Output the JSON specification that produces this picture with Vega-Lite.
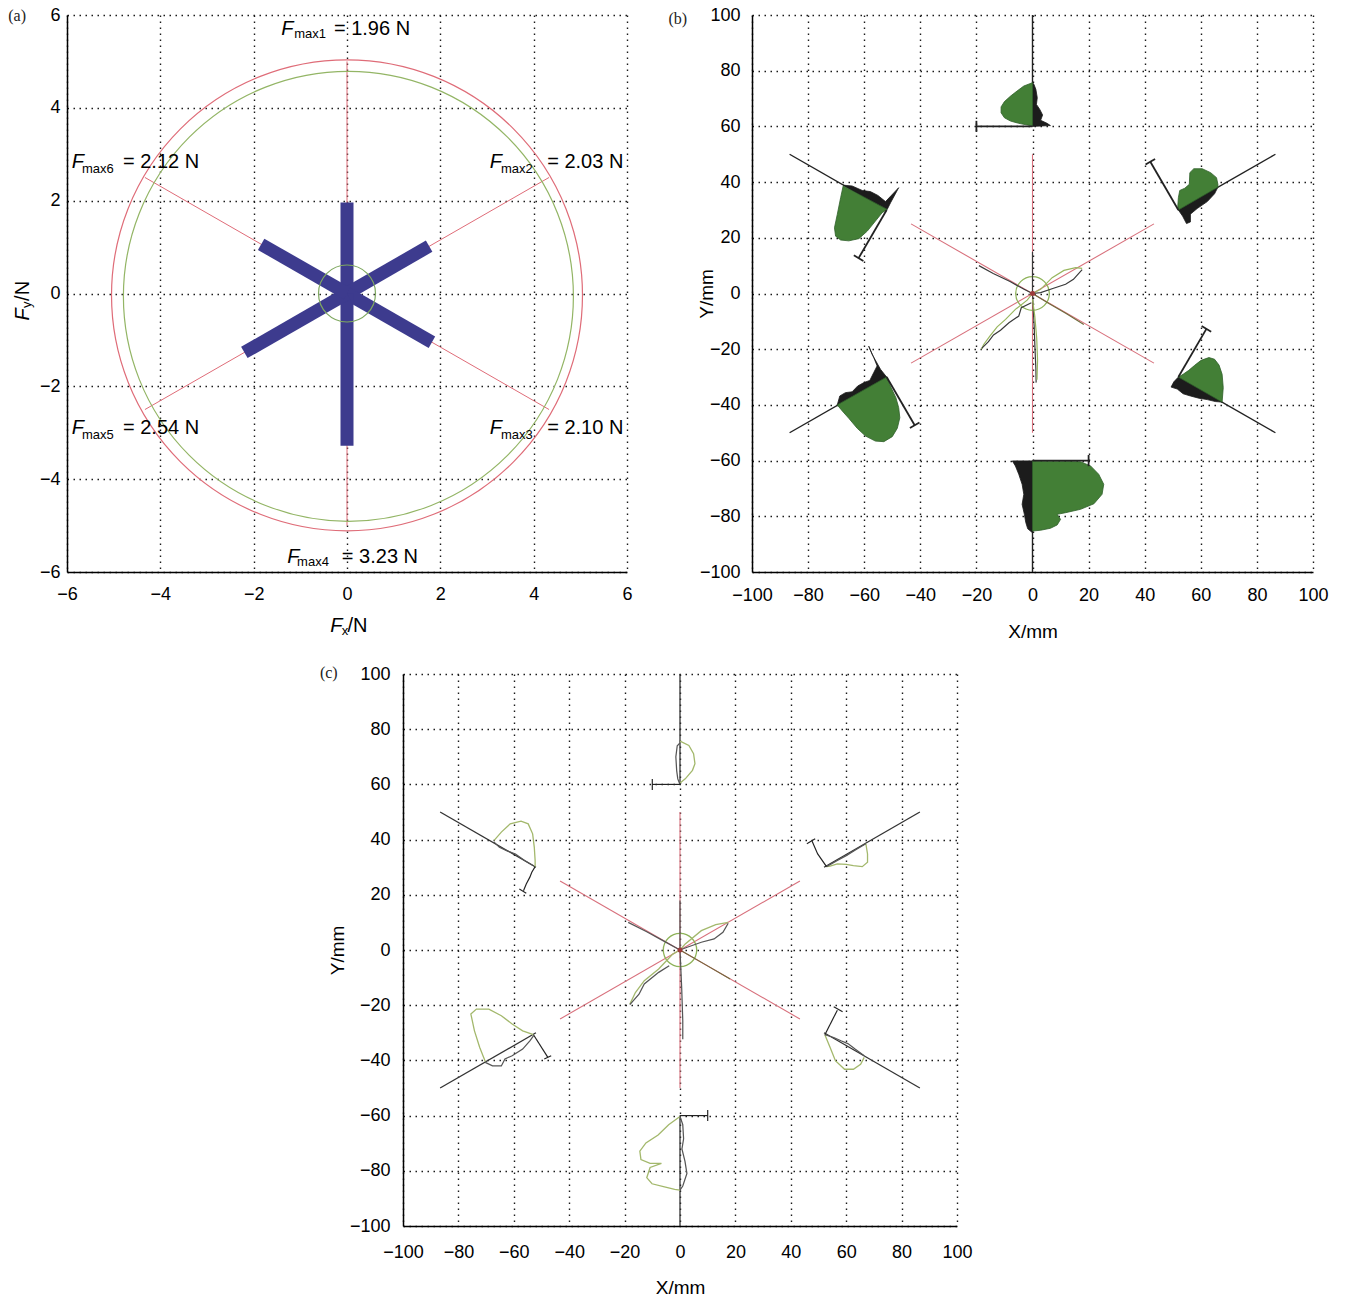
{
"$schema": "https://vega.github.io/schema/vega-lite/v6.json",
"background": "white",
"padding": {"left": 8, "top": 6, "right": 5, "bottom": 5},
"config": {
  "view": {"stroke": null},
  "axis": {"grid": true, "gridDash": [1.5, 4.5], "gridColor": "#1a1a1a", "gridOpacity": 1, "gridWidth": 1.4, "domainColor": "#000", "domainWidth": 1.5, "ticks": false, "labelFlush": false, "labelOverlap": false, "labelFont": "Liberation Sans", "labelFontSize": 18, "labelColor": "#000", "titleFont": "Liberation Sans", "titleFontSize": 19, "titleFontWeight": "normal", "titleColor": "#000"}
},
"datasets": {
  "aSpokes": [{"X":0,"Y":5,"X2":0,"Y2":-5},{"X":-4.33,"Y":-2.5,"X2":4.33,"Y2":2.5},{"X":-4.33,"Y":2.5,"X2":4.33,"Y2":-2.5}],
  "aBars": [{"X":0,"Y":0,"X2":0,"Y2":1.96},{"X":0,"Y":0,"X2":1.76,"Y2":1.02},{"X":0,"Y":0,"X2":1.82,"Y2":-1.05},{"X":0,"Y":0,"X2":0,"Y2":-3.28},{"X":0,"Y":0,"X2":-2.2,"Y2":-1.27},{"X":0,"Y":0,"X2":-1.84,"Y2":1.06}],
  "aText": [
    {"k":"F","t":"F","X":-1.41,"Y":5.70},{"k":"s","t":"max1","X":-1.13,"Y":5.58},{"k":"r","t":"=\u00a01.96 N","X":-0.28,"Y":5.70},
    {"k":"F","t":"F","X":-5.90,"Y":2.83},{"k":"s","t":"max6","X":-5.68,"Y":2.68},{"k":"r","t":"=\u00a02.12 N","X":-4.80,"Y":2.83},
    {"k":"F","t":"F","X":3.06,"Y":2.83},{"k":"s","t":"max2","X":3.30,"Y":2.68},{"k":"r","t":"=\u00a02.03 N","X":4.29,"Y":2.83},
    {"k":"F","t":"F","X":-5.90,"Y":-2.89},{"k":"s","t":"max5","X":-5.68,"Y":-3.05},{"k":"r","t":"=\u00a02.54 N","X":-4.80,"Y":-2.89},
    {"k":"F","t":"F","X":3.06,"Y":-2.89},{"k":"s","t":"max3","X":3.30,"Y":-3.05},{"k":"r","t":"=\u00a02.10 N","X":4.29,"Y":-2.89},
    {"k":"F","t":"F","X":-1.28,"Y":-5.67},{"k":"s","t":"max4","X":-1.07,"Y":-5.79},{"k":"r","t":"=\u00a03.23 N","X":-0.11,"Y":-5.67},
    {"k":"F","t":"F","X":-0.36,"Y":-7.17},{"k":"s","t":"x","X":-0.11,"Y":-7.28},{"k":"r","t":"/N","X":0.01,"Y":-7.17},
    {"k":"Fv","t":"F","X":-6.95,"Y":-0.58},{"k":"sv","t":"y","X":-6.86,"Y":-0.31},{"k":"rv","t":"/N","X":-6.95,"Y":-0.16},
    {"k":"p","t":"(a)","X":-7.26,"Y":5.98}
  ],
  "redlines": [{"X":0,"Y":50,"X2":0,"Y2":-50},{"X":-43.3,"Y":25,"X2":43.3,"Y2":-25},{"X":-43.3,"Y":-25,"X2":43.3,"Y2":25}],
  "tracks": [{"X":0,"Y":100,"X2":0,"Y2":60},{"X":0,"Y":-60,"X2":0,"Y2":-100},{"X":52,"Y":30,"X2":86.6,"Y2":50},{"X":-52,"Y":30,"X2":-86.6,"Y2":50},{"X":-52,"Y":-30,"X2":-86.6,"Y2":-50},{"X":52,"Y":-30,"X2":86.6,"Y2":-50}],
  "bT": [{"X":0,"Y":60,"X2":-20,"Y2":60},{"X":-20,"Y":58,"X2":-20,"Y2":62},
         {"X":52,"Y":30,"X2":42,"Y2":47.3},{"X":40.3,"Y":46.3,"X2":43.7,"Y2":48.3},
         {"X":52,"Y":-30,"X2":62,"Y2":-12.7},{"X":60.3,"Y":-11.7,"X2":63.7,"Y2":-13.7},
         {"X":0,"Y":-60,"X2":20,"Y2":-60},{"X":20,"Y":-58,"X2":20,"Y2":-62},
         {"X":-52,"Y":-30,"X2":-42,"Y2":-47.3},{"X":-43.7,"Y":-48.3,"X2":-40.3,"Y2":-46.3},
         {"X":-52,"Y":30,"X2":-62,"Y2":12.7},{"X":-63.7,"Y":13.7,"X2":-60.3,"Y2":11.7}],
  "bPoly": [
    {"s":"ULk","p":"k","o":1,"X":-67.5,"Y":38.9},{"s":"ULk","p":"k","o":2,"X":-64.3,"Y":38.6},{"s":"ULk","p":"k","o":3,"X":-60.7,"Y":37.0},{"s":"ULk","p":"k","o":4,"X":-57.8,"Y":36.6},{"s":"ULk","p":"k","o":5,"X":-55.1,"Y":35.2},{"s":"ULk","p":"k","o":6,"X":-52.4,"Y":33.0},{"s":"ULk","p":"k","o":7,"X":-47.7,"Y":38.0},{"s":"ULk","p":"k","o":8,"X":-50.6,"Y":32.6},{"s":"ULk","p":"k","o":9,"X":-51.8,"Y":30.2},{"s":"ULk","p":"k","o":10,"X":-67.5,"Y":38.9},
    {"s":"ULg","p":"g","o":1,"X":-67.5,"Y":38.6},{"s":"ULg","p":"g","o":2,"X":-68.4,"Y":34.4},{"s":"ULg","p":"g","o":3,"X":-69.6,"Y":28.4},{"s":"ULg","p":"g","o":4,"X":-70.6,"Y":23.6},{"s":"ULg","p":"g","o":5,"X":-70.2,"Y":20.6},{"s":"ULg","p":"g","o":6,"X":-68.4,"Y":19.2},{"s":"ULg","p":"g","o":7,"X":-65.5,"Y":18.9},{"s":"ULg","p":"g","o":8,"X":-61.9,"Y":19.7},{"s":"ULg","p":"g","o":9,"X":-58.9,"Y":22.4},{"s":"ULg","p":"g","o":10,"X":-56.0,"Y":26.0},{"s":"ULg","p":"g","o":11,"X":-53.6,"Y":29.0},{"s":"ULg","p":"g","o":12,"X":-51.8,"Y":30.2},{"s":"ULg","p":"g","o":13,"X":-67.5,"Y":38.6},
    {"s":"URk","p":"k","o":1,"X":52.0,"Y":30.0},{"s":"URk","p":"k","o":2,"X":53.5,"Y":27.8},{"s":"URk","p":"k","o":3,"X":54.9,"Y":25.1},{"s":"URk","p":"k","o":4,"X":56.3,"Y":25.7},{"s":"URk","p":"k","o":5,"X":56.3,"Y":28.5},{"s":"URk","p":"k","o":6,"X":58.7,"Y":30.5},{"s":"URk","p":"k","o":7,"X":62.3,"Y":33.0},{"s":"URk","p":"k","o":8,"X":64.9,"Y":35.8},{"s":"URk","p":"k","o":9,"X":66.1,"Y":38.2},{"s":"URk","p":"k","o":10,"X":52.0,"Y":30.0},
    {"s":"URg","p":"g","o":1,"X":66.1,"Y":39.2},{"s":"URg","p":"g","o":2,"X":65.6,"Y":41.6},{"s":"URg","p":"g","o":3,"X":63.5,"Y":43.4},{"s":"URg","p":"g","o":4,"X":60.5,"Y":44.8},{"s":"URg","p":"g","o":5,"X":57.5,"Y":44.8},{"s":"URg","p":"g","o":6,"X":56.1,"Y":43.4},{"s":"URg","p":"g","o":7,"X":55.9,"Y":39.2},{"s":"URg","p":"g","o":8,"X":54.3,"Y":37.8},{"s":"URg","p":"g","o":9,"X":52.5,"Y":37.0},{"s":"URg","p":"g","o":10,"X":52.0,"Y":34.4},{"s":"URg","p":"g","o":11,"X":51.8,"Y":31.4},{"s":"URg","p":"g","o":12,"X":52.0,"Y":30.0},{"s":"URg","p":"g","o":13,"X":66.1,"Y":38.2},{"s":"URg","p":"g","o":14,"X":66.1,"Y":39.2},
    {"s":"Tk","p":"k","o":1,"X":0,"Y":75.7},{"s":"Tk","p":"k","o":2,"X":0.5,"Y":75.1},{"s":"Tk","p":"k","o":3,"X":1.2,"Y":73.3},{"s":"Tk","p":"k","o":4,"X":1.7,"Y":70.3},{"s":"Tk","p":"k","o":5,"X":1.4,"Y":67.9},{"s":"Tk","p":"k","o":6,"X":2.6,"Y":66.1},{"s":"Tk","p":"k","o":7,"X":3.6,"Y":64.1},{"s":"Tk","p":"k","o":8,"X":2.9,"Y":62.2},{"s":"Tk","p":"k","o":9,"X":5.2,"Y":61.1},{"s":"Tk","p":"k","o":10,"X":6.4,"Y":60.3},{"s":"Tk","p":"k","o":11,"X":0,"Y":60.0},{"s":"Tk","p":"k","o":12,"X":0,"Y":75.7},
    {"s":"Tg","p":"g","o":1,"X":0,"Y":75.7},{"s":"Tg","p":"g","o":2,"X":-3.1,"Y":74.5},{"s":"Tg","p":"g","o":3,"X":-5.5,"Y":72.7},{"s":"Tg","p":"g","o":4,"X":-7.8,"Y":70.9},{"s":"Tg","p":"g","o":5,"X":-10.0,"Y":68.9},{"s":"Tg","p":"g","o":6,"X":-11.2,"Y":67.0},{"s":"Tg","p":"g","o":7,"X":-11.2,"Y":64.9},{"s":"Tg","p":"g","o":8,"X":-10.0,"Y":63.1},{"s":"Tg","p":"g","o":9,"X":-7.8,"Y":61.9},{"s":"Tg","p":"g","o":10,"X":-4.9,"Y":61.1},{"s":"Tg","p":"g","o":11,"X":-1.9,"Y":60.5},{"s":"Tg","p":"g","o":12,"X":0,"Y":60.2},{"s":"Tg","p":"g","o":13,"X":0,"Y":75.7},
    {"s":"LLk","p":"k","o":1,"X":-69.6,"Y":-40.0},{"s":"LLk","p":"k","o":2,"X":-68.7,"Y":-36.8},{"s":"LLk","p":"k","o":3,"X":-66.7,"Y":-35.6},{"s":"LLk","p":"k","o":4,"X":-64.3,"Y":-35.3},{"s":"LLk","p":"k","o":5,"X":-62.3,"Y":-33.2},{"s":"LLk","p":"k","o":6,"X":-60.1,"Y":-32.0},{"s":"LLk","p":"k","o":7,"X":-58.0,"Y":-31.2},{"s":"LLk","p":"k","o":8,"X":-56.6,"Y":-28.4},{"s":"LLk","p":"k","o":9,"X":-55.4,"Y":-26.0},{"s":"LLk","p":"k","o":10,"X":-56.6,"Y":-23.0},{"s":"LLk","p":"k","o":11,"X":-58.4,"Y":-18.9},{"s":"LLk","p":"k","o":12,"X":-57.2,"Y":-21.8},{"s":"LLk","p":"k","o":13,"X":-54.2,"Y":-27.2},{"s":"LLk","p":"k","o":14,"X":-52.0,"Y":-30.0},{"s":"LLk","p":"k","o":15,"X":-69.6,"Y":-40.0},
    {"s":"LLg","p":"g","o":1,"X":-69.6,"Y":-40.0},{"s":"LLg","p":"g","o":2,"X":-52.0,"Y":-30.0},{"s":"LLg","p":"g","o":3,"X":-50.4,"Y":-33.8},{"s":"LLg","p":"g","o":4,"X":-48.7,"Y":-37.4},{"s":"LLg","p":"g","o":5,"X":-47.7,"Y":-41.0},{"s":"LLg","p":"g","o":6,"X":-47.3,"Y":-44.6},{"s":"LLg","p":"g","o":7,"X":-48.2,"Y":-48.4},{"s":"LLg","p":"g","o":8,"X":-50.0,"Y":-51.4},{"s":"LLg","p":"g","o":9,"X":-53.0,"Y":-53.2},{"s":"LLg","p":"g","o":10,"X":-56.0,"Y":-53.0},{"s":"LLg","p":"g","o":11,"X":-59.5,"Y":-51.2},{"s":"LLg","p":"g","o":12,"X":-62.5,"Y":-48.4},{"s":"LLg","p":"g","o":13,"X":-65.5,"Y":-44.8},{"s":"LLg","p":"g","o":14,"X":-67.8,"Y":-42.2},{"s":"LLg","p":"g","o":15,"X":-69.6,"Y":-40.0},
    {"s":"LRk","p":"k","o":1,"X":52.0,"Y":-30.0},{"s":"LRk","p":"k","o":2,"X":50.4,"Y":-31.7},{"s":"LRk","p":"k","o":3,"X":49.4,"Y":-33.6},{"s":"LRk","p":"k","o":4,"X":51.6,"Y":-34.3},{"s":"LRk","p":"k","o":5,"X":53.7,"Y":-36.0},{"s":"LRk","p":"k","o":6,"X":56.3,"Y":-36.8},{"s":"LRk","p":"k","o":7,"X":59.3,"Y":-37.6},{"s":"LRk","p":"k","o":8,"X":62.3,"Y":-38.1},{"s":"LRk","p":"k","o":9,"X":65.2,"Y":-38.8},{"s":"LRk","p":"k","o":10,"X":67.6,"Y":-39.0},{"s":"LRk","p":"k","o":11,"X":52.0,"Y":-30.0},
    {"s":"LRg","p":"g","o":1,"X":52.0,"Y":-30.0},{"s":"LRg","p":"g","o":2,"X":53.7,"Y":-29.0},{"s":"LRg","p":"g","o":3,"X":55.7,"Y":-27.6},{"s":"LRg","p":"g","o":4,"X":57.8,"Y":-25.8},{"s":"LRg","p":"g","o":5,"X":60.1,"Y":-24.0},{"s":"LRg","p":"g","o":6,"X":62.9,"Y":-23.0},{"s":"LRg","p":"g","o":7,"X":64.9,"Y":-23.6},{"s":"LRg","p":"g","o":8,"X":66.5,"Y":-25.7},{"s":"LRg","p":"g","o":9,"X":67.6,"Y":-29.0},{"s":"LRg","p":"g","o":10,"X":68.0,"Y":-33.8},{"s":"LRg","p":"g","o":11,"X":67.6,"Y":-39.0},{"s":"LRg","p":"g","o":12,"X":52.0,"Y":-30.0},
    {"s":"Bk","p":"k","o":1,"X":0,"Y":-60.1},{"s":"Bk","p":"k","o":2,"X":-7.2,"Y":-60.1},{"s":"Bk","p":"k","o":3,"X":-6.1,"Y":-61.9},{"s":"Bk","p":"k","o":4,"X":-4.9,"Y":-64.9},{"s":"Bk","p":"k","o":5,"X":-3.7,"Y":-68.5},{"s":"Bk","p":"k","o":6,"X":-3.1,"Y":-72.1},{"s":"Bk","p":"k","o":7,"X":-3.7,"Y":-75.7},{"s":"Bk","p":"k","o":8,"X":-2.9,"Y":-79.3},{"s":"Bk","p":"k","o":9,"X":-2.4,"Y":-82.2},{"s":"Bk","p":"k","o":10,"X":-1.7,"Y":-84.5},{"s":"Bk","p":"k","o":11,"X":0,"Y":-85.9},{"s":"Bk","p":"k","o":12,"X":0,"Y":-60.1},
    {"s":"Bg","p":"g","o":1,"X":0,"Y":-60.1},{"s":"Bg","p":"g","o":2,"X":17.1,"Y":-60.4},{"s":"Bg","p":"g","o":3,"X":20.7,"Y":-61.9},{"s":"Bg","p":"g","o":4,"X":23.6,"Y":-64.9},{"s":"Bg","p":"g","o":5,"X":25.4,"Y":-68.5},{"s":"Bg","p":"g","o":6,"X":24.8,"Y":-72.1},{"s":"Bg","p":"g","o":7,"X":21.9,"Y":-75.5},{"s":"Bg","p":"g","o":8,"X":17.1,"Y":-77.5},{"s":"Bg","p":"g","o":9,"X":11.8,"Y":-78.7},{"s":"Bg","p":"g","o":10,"X":8.8,"Y":-79.3},{"s":"Bg","p":"g","o":11,"X":10.0,"Y":-81.1},{"s":"Bg","p":"g","o":12,"X":8.8,"Y":-83.1},{"s":"Bg","p":"g","o":13,"X":6.4,"Y":-84.3},{"s":"Bg","p":"g","o":14,"X":2.9,"Y":-85.0},{"s":"Bg","p":"g","o":15,"X":0,"Y":-85.3},{"s":"Bg","p":"g","o":16,"X":0,"Y":-60.1}
  ],
  "bPaths": [
    {"id":"p1","k":"g","o":1,"X":0,"Y":0},{"id":"p1","k":"g","o":2,"X":2.9,"Y":1.5},{"id":"p1","k":"g","o":3,"X":7.0,"Y":5.7},{"id":"p1","k":"g","o":4,"X":11.2,"Y":8.3},{"id":"p1","k":"g","o":5,"X":15.4,"Y":9.3},{"id":"p1","k":"g","o":6,"X":17.7,"Y":9.0},
    {"id":"p2","k":"d","o":1,"X":0,"Y":0},{"id":"p2","k":"d","o":2,"X":2.9,"Y":0.3},{"id":"p2","k":"d","o":3,"X":7.5,"Y":1.9},{"id":"p2","k":"d","o":4,"X":11.8,"Y":3.3},{"id":"p2","k":"d","o":5,"X":14.6,"Y":5.1},{"id":"p2","k":"d","o":6,"X":17.7,"Y":8.6},
    {"id":"p3","k":"d","o":1,"X":0,"Y":0},{"id":"p3","k":"d","o":2,"X":-3,"Y":1.5},{"id":"p3","k":"d","o":3,"X":-8,"Y":4.3},{"id":"p3","k":"d","o":4,"X":-14,"Y":7.2},{"id":"p3","k":"d","o":5,"X":-19.1,"Y":10.0},
    {"id":"p4","k":"g","o":1,"X":0,"Y":0},{"id":"p4","k":"g","o":2,"X":-1.9,"Y":-2.4},{"id":"p4","k":"g","o":3,"X":-6.1,"Y":-5.7},{"id":"p4","k":"g","o":4,"X":-9.6,"Y":-9.3},{"id":"p4","k":"g","o":5,"X":-12.6,"Y":-12.0},{"id":"p4","k":"g","o":6,"X":-15.2,"Y":-15.3},{"id":"p4","k":"g","o":7,"X":-17.4,"Y":-18.3},{"id":"p4","k":"g","o":8,"X":-18.2,"Y":-20.0},
    {"id":"p5","k":"d","o":1,"X":-0.4,"Y":-3.3},{"id":"p5","k":"d","o":2,"X":-4.0,"Y":-5.1},{"id":"p5","k":"d","o":3,"X":-4.9,"Y":-8.1},{"id":"p5","k":"d","o":4,"X":-8.4,"Y":-10.5},{"id":"p5","k":"d","o":5,"X":-11.4,"Y":-13.2},{"id":"p5","k":"d","o":6,"X":-13.9,"Y":-14.9},{"id":"p5","k":"d","o":7,"X":-15.7,"Y":-17.3},{"id":"p5","k":"d","o":8,"X":-18.1,"Y":-19.7},
    {"id":"p6","k":"o","o":1,"X":0,"Y":0},{"id":"p6","k":"o","o":2,"X":6,"Y":-3.7},{"id":"p6","k":"o","o":3,"X":12,"Y":-7.2},{"id":"p6","k":"o","o":4,"X":18.3,"Y":-11.1},
    {"id":"p7","k":"d","o":1,"X":0,"Y":0},{"id":"p7","k":"d","o":2,"X":0.3,"Y":-6},{"id":"p7","k":"d","o":3,"X":0.6,"Y":-12},{"id":"p7","k":"d","o":4,"X":0.9,"Y":-20},{"id":"p7","k":"d","o":5,"X":1.2,"Y":-27},{"id":"p7","k":"d","o":6,"X":1.3,"Y":-32},
    {"id":"p8","k":"g","o":1,"X":0,"Y":-2},{"id":"p8","k":"g","o":2,"X":0.8,"Y":-8},{"id":"p8","k":"g","o":3,"X":1.5,"Y":-16},{"id":"p8","k":"g","o":4,"X":1.8,"Y":-24},{"id":"p8","k":"g","o":5,"X":1.6,"Y":-31},
    {"id":"p9","k":"d","o":1,"X":0,"Y":15},{"id":"p9","k":"d","o":2,"X":0,"Y":0}
  ],
  "cPaths": [
    {"id":"q1","k":"g","o":1,"X":0,"Y":0},{"id":"q1","k":"g","o":2,"X":1.9,"Y":2.2},{"id":"q1","k":"g","o":3,"X":7.7,"Y":7.0},{"id":"q1","k":"g","o":4,"X":12.9,"Y":9.2},{"id":"q1","k":"g","o":5,"X":17.4,"Y":10.0},
    {"id":"q2","k":"d","o":1,"X":0,"Y":0},{"id":"q2","k":"d","o":2,"X":2.6,"Y":1.0},{"id":"q2","k":"d","o":3,"X":7.7,"Y":2.8},{"id":"q2","k":"d","o":4,"X":12.3,"Y":4.0},{"id":"q2","k":"d","o":5,"X":15.5,"Y":6.4},{"id":"q2","k":"d","o":6,"X":17.4,"Y":9.7},
    {"id":"q3","k":"d","o":1,"X":0,"Y":0},{"id":"q3","k":"d","o":2,"X":-6,"Y":3.3},{"id":"q3","k":"d","o":3,"X":-12,"Y":6.6},{"id":"q3","k":"d","o":4,"X":-18.7,"Y":10.0},
    {"id":"q4","k":"g","o":1,"X":0,"Y":0},{"id":"q4","k":"g","o":2,"X":-2.6,"Y":-1.5},{"id":"q4","k":"g","o":3,"X":-7.7,"Y":-6.9},{"id":"q4","k":"g","o":4,"X":-12.9,"Y":-11.1},{"id":"q4","k":"g","o":5,"X":-16.1,"Y":-15.4},{"id":"q4","k":"g","o":6,"X":-18.1,"Y":-19.6},
    {"id":"q5","k":"d","o":1,"X":-3.9,"Y":-5.7},{"id":"q5","k":"d","o":2,"X":-7.7,"Y":-8.1},{"id":"q5","k":"d","o":3,"X":-12.9,"Y":-12.3},{"id":"q5","k":"d","o":4,"X":-14.8,"Y":-16.0},{"id":"q5","k":"d","o":5,"X":-18.1,"Y":-19.8},
    {"id":"q6","k":"o","o":1,"X":0,"Y":0},{"id":"q6","k":"o","o":2,"X":9,"Y":-5.2},{"id":"q6","k":"o","o":3,"X":18.1,"Y":-10.5},
    {"id":"q7","k":"d","o":1,"X":0,"Y":0},{"id":"q7","k":"d","o":2,"X":0.6,"Y":-13.5},{"id":"q7","k":"d","o":3,"X":1,"Y":-25.6},{"id":"q7","k":"d","o":4,"X":1,"Y":-32.3},
    {"id":"q8","k":"d","o":1,"X":0,"Y":17.9},{"id":"q8","k":"d","o":2,"X":0,"Y":0},
    {"id":"ctg","k":"g","o":1,"X":0,"Y":75.7},{"id":"ctg","k":"g","o":2,"X":3.2,"Y":74.1},{"id":"ctg","k":"g","o":3,"X":4.9,"Y":71.1},{"id":"ctg","k":"g","o":4,"X":5.4,"Y":67.5},{"id":"ctg","k":"g","o":5,"X":4.5,"Y":65.1},{"id":"ctg","k":"g","o":6,"X":1.9,"Y":62.0},{"id":"ctg","k":"g","o":7,"X":0,"Y":60.5},
    {"id":"ctd","k":"d","o":1,"X":0,"Y":75},{"id":"ctd","k":"d","o":2,"X":-1,"Y":74},{"id":"ctd","k":"d","o":3,"X":-1.5,"Y":70},{"id":"ctd","k":"d","o":4,"X":-1.2,"Y":65},{"id":"ctd","k":"d","o":5,"X":-0.8,"Y":62},{"id":"ctd","k":"d","o":6,"X":0,"Y":60},
    {"id":"cug","k":"g","o":1,"X":-67.1,"Y":39.7},{"id":"cug","k":"g","o":2,"X":-64.5,"Y":42.7},{"id":"cug","k":"g","o":3,"X":-61.3,"Y":45.7},{"id":"cug","k":"g","o":4,"X":-57.4,"Y":46.7},{"id":"cug","k":"g","o":5,"X":-54.8,"Y":45.7},{"id":"cug","k":"g","o":6,"X":-53.2,"Y":42.1},{"id":"cug","k":"g","o":7,"X":-52.6,"Y":37.2},{"id":"cug","k":"g","o":8,"X":-52.3,"Y":32.4},{"id":"cug","k":"g","o":9,"X":-52.3,"Y":30.2},
    {"id":"cud","k":"d","o":1,"X":-67.1,"Y":39.1},{"id":"cud","k":"d","o":2,"X":-65.2,"Y":37.2},{"id":"cud","k":"d","o":3,"X":-62.6,"Y":36.0},{"id":"cud","k":"d","o":4,"X":-59.4,"Y":34.8},{"id":"cud","k":"d","o":5,"X":-56.1,"Y":32.4},{"id":"cud","k":"d","o":6,"X":-52.9,"Y":30.5},
    {"id":"crg","k":"g","o":1,"X":67.1,"Y":38.5},{"id":"crg","k":"g","o":2,"X":67.7,"Y":34.8},{"id":"crg","k":"g","o":3,"X":67.7,"Y":31.8},{"id":"crg","k":"g","o":4,"X":65.8,"Y":30.2},{"id":"crg","k":"g","o":5,"X":62.6,"Y":30.6},{"id":"crg","k":"g","o":6,"X":60,"Y":31.0},{"id":"crg","k":"g","o":7,"X":56.8,"Y":31.2},{"id":"crg","k":"g","o":8,"X":54.2,"Y":30.4},{"id":"crg","k":"g","o":9,"X":52.9,"Y":30.2},
    {"id":"crd","k":"d","o":1,"X":52.9,"Y":30.2},{"id":"crd","k":"d","o":2,"X":56.8,"Y":32.4},{"id":"crd","k":"d","o":3,"X":60,"Y":34.2},{"id":"crd","k":"d","o":4,"X":63.9,"Y":36.6},{"id":"crd","k":"d","o":5,"X":67.1,"Y":38.5},
    {"id":"clg","k":"g","o":1,"X":-70.3,"Y":-40.4},{"id":"clg","k":"g","o":2,"X":-72.3,"Y":-35.3},{"id":"clg","k":"g","o":3,"X":-74.2,"Y":-29.3},{"id":"clg","k":"g","o":4,"X":-75.5,"Y":-23.2},{"id":"clg","k":"g","o":5,"X":-73.5,"Y":-21.4},{"id":"clg","k":"g","o":6,"X":-69.0,"Y":-21.4},{"id":"clg","k":"g","o":7,"X":-64.5,"Y":-23.8},{"id":"clg","k":"g","o":8,"X":-60.6,"Y":-26.8},{"id":"clg","k":"g","o":9,"X":-56.8,"Y":-29.3},{"id":"clg","k":"g","o":10,"X":-52.9,"Y":-30.7},
    {"id":"cld","k":"d","o":1,"X":-70.3,"Y":-40.7},{"id":"cld","k":"d","o":2,"X":-67.7,"Y":-42.0},{"id":"cld","k":"d","o":3,"X":-64.5,"Y":-42.0},{"id":"cld","k":"d","o":4,"X":-63.2,"Y":-39.5},{"id":"cld","k":"d","o":5,"X":-60.6,"Y":-38.3},{"id":"cld","k":"d","o":6,"X":-56.8,"Y":-35.9},{"id":"cld","k":"d","o":7,"X":-54.2,"Y":-32.9},{"id":"cld","k":"d","o":8,"X":-52.9,"Y":-31.1},
    {"id":"cmg","k":"g","o":1,"X":52.3,"Y":-30.7},{"id":"cmg","k":"g","o":2,"X":54.2,"Y":-35.3},{"id":"cmg","k":"g","o":3,"X":56.1,"Y":-40.1},{"id":"cmg","k":"g","o":4,"X":59.4,"Y":-43.2},{"id":"cmg","k":"g","o":5,"X":62.6,"Y":-43.2},{"id":"cmg","k":"g","o":6,"X":65.2,"Y":-41.4},{"id":"cmg","k":"g","o":7,"X":66.5,"Y":-38.9},
    {"id":"cmd","k":"d","o":1,"X":52.3,"Y":-30.7},{"id":"cmd","k":"d","o":2,"X":55.5,"Y":-31.7},{"id":"cmd","k":"d","o":3,"X":58.1,"Y":-32.9},{"id":"cmd","k":"d","o":4,"X":60.6,"Y":-33.9},{"id":"cmd","k":"d","o":5,"X":63.2,"Y":-35.9},{"id":"cmd","k":"d","o":6,"X":66.5,"Y":-38.3},
    {"id":"cbg","k":"g","o":1,"X":0,"Y":-60.3},{"id":"cbg","k":"g","o":2,"X":-4.1,"Y":-63.3},{"id":"cbg","k":"g","o":3,"X":-7.9,"Y":-67.0},{"id":"cbg","k":"g","o":4,"X":-12.3,"Y":-69.9},{"id":"cbg","k":"g","o":5,"X":-14.5,"Y":-72.9},{"id":"cbg","k":"g","o":6,"X":-14.1,"Y":-75.9},{"id":"cbg","k":"g","o":7,"X":-10.8,"Y":-77.3},{"id":"cbg","k":"g","o":8,"X":-6.7,"Y":-77.3},{"id":"cbg","k":"g","o":9,"X":-10.8,"Y":-78.8},{"id":"cbg","k":"g","o":10,"X":-12,"Y":-82.5},{"id":"cbg","k":"g","o":11,"X":-10.1,"Y":-84.7},{"id":"cbg","k":"g","o":12,"X":-5.6,"Y":-85.8},{"id":"cbg","k":"g","o":13,"X":-1.9,"Y":-86.7},{"id":"cbg","k":"g","o":14,"X":0,"Y":-87},
    {"id":"cbd","k":"d","o":1,"X":0,"Y":-60.3},{"id":"cbd","k":"d","o":2,"X":1,"Y":-63.3},{"id":"cbd","k":"d","o":3,"X":1.3,"Y":-68.4},{"id":"cbd","k":"d","o":4,"X":0.7,"Y":-72.1},{"id":"cbd","k":"d","o":5,"X":1.8,"Y":-76.6},{"id":"cbd","k":"d","o":6,"X":2.5,"Y":-81},{"id":"cbd","k":"d","o":7,"X":1,"Y":-85.5},{"id":"cbd","k":"d","o":8,"X":0,"Y":-87},
    {"id":"tt","k":"t","o":1,"X":0,"Y":60},{"id":"tt","k":"t","o":2,"X":-10,"Y":60},
    {"id":"ttc","k":"t","o":1,"X":-10,"Y":58},{"id":"ttc","k":"t","o":2,"X":-10,"Y":62},
    {"id":"tb","k":"t","o":1,"X":0,"Y":-60},{"id":"tb","k":"t","o":2,"X":10,"Y":-60},
    {"id":"tbc","k":"t","o":1,"X":10,"Y":-58},{"id":"tbc","k":"t","o":2,"X":10,"Y":-62},
    {"id":"tul","k":"t","o":1,"X":-52.3,"Y":30.2},{"id":"tul","k":"t","o":2,"X":-53.5,"Y":28.2},{"id":"tul","k":"t","o":3,"X":-54.2,"Y":26.4},{"id":"tul","k":"t","o":4,"X":-55.5,"Y":23.9},{"id":"tul","k":"t","o":5,"X":-56.5,"Y":21.5},
    {"id":"tulc","k":"t","o":1,"X":-58,"Y":22.1},{"id":"tulc","k":"t","o":2,"X":-55.5,"Y":20.6},
    {"id":"tur","k":"t","o":1,"X":52.9,"Y":30.2},{"id":"tur","k":"t","o":2,"X":49.7,"Y":34.8},{"id":"tur","k":"t","o":3,"X":47.7,"Y":39.4},
    {"id":"turc","k":"t","o":1,"X":45.8,"Y":38.5},{"id":"turc","k":"t","o":2,"X":48.8,"Y":40.3},
    {"id":"tll","k":"t","o":1,"X":-52.9,"Y":-30.7},{"id":"tll","k":"t","o":2,"X":-47.7,"Y":-38.9},
    {"id":"tllc","k":"t","o":1,"X":-49,"Y":-39.5},{"id":"tllc","k":"t","o":2,"X":-46.5,"Y":-38.3},
    {"id":"tlr","k":"t","o":1,"X":52.3,"Y":-30.7},{"id":"tlr","k":"t","o":2,"X":56.8,"Y":-21.8},
    {"id":"tlrc","k":"t","o":1,"X":55.5,"Y":-20.6},{"id":"tlrc","k":"t","o":2,"X":58.7,"Y":-22.4}
  ]
},
"vconcat": [
  {
    "hconcat": [
      {
        "width": 560, "height": 557,
        "encoding": {
          "x": {"field": "X", "type": "quantitative", "scale": {"domain": [-6, 6], "nice": false, "zero": false}, "axis": {"values": [-6, -4, -2, 0, 2, 4, 6], "title": null, "labelPadding": 13}},
          "y": {"field": "Y", "type": "quantitative", "scale": {"domain": [-6, 6], "nice": false, "zero": false}, "axis": {"values": [-6, -4, -2, 0, 2, 4, 6], "title": null, "labelPadding": 7}}
        },
        "layer": [
          {"data": {"name": "aSpokes"}, "mark": {"type": "rule", "color": "#df6c78", "strokeWidth": 1}, "encoding": {"x2": {"field": "X2"}, "y2": {"field": "Y2"}}},
          {"data": {"values": [{"X": 0, "Y": -0.04}]}, "mark": {"type": "point", "shape": "circle", "filled": false, "size": 221800, "stroke": "#df6c78", "strokeWidth": 1.2, "opacity": 1}},
          {"data": {"values": [{"X": 0.03, "Y": -0.06}]}, "mark": {"type": "point", "shape": "circle", "filled": false, "size": 202500, "stroke": "#93b565", "strokeWidth": 1.2, "opacity": 1}},
          {"data": {"name": "aBars"}, "mark": {"type": "rule", "color": "#3d3b8e", "strokeWidth": 13, "strokeCap": "butt"}, "encoding": {"x2": {"field": "X2"}, "y2": {"field": "Y2"}}},
          {"data": {"values": [{"X": 0, "Y": 0}]}, "mark": {"type": "point", "shape": "circle", "filled": false, "size": 3250, "stroke": "#7fa860", "strokeWidth": 1.2, "opacity": 1}},
          {"data": {"name": "aText"}, "transform": [{"filter": "datum.k == 'F'"}], "mark": {"type": "text", "align": "left", "baseline": "middle", "font": "Liberation Sans", "fontSize": 20, "fontStyle": "italic", "color": "#000"}, "encoding": {"text": {"field": "t"}}},
          {"data": {"name": "aText"}, "transform": [{"filter": "datum.k == 's'"}], "mark": {"type": "text", "align": "left", "baseline": "middle", "font": "Liberation Sans", "fontSize": 13, "color": "#000"}, "encoding": {"text": {"field": "t"}}},
          {"data": {"name": "aText"}, "transform": [{"filter": "datum.k == 'r'"}], "mark": {"type": "text", "align": "left", "baseline": "middle", "font": "Liberation Sans", "fontSize": 20, "color": "#000"}, "encoding": {"text": {"field": "t"}}},
          {"data": {"name": "aText"}, "transform": [{"filter": "datum.k == 'Fv'"}], "mark": {"type": "text", "align": "left", "baseline": "middle", "angle": 270, "font": "Liberation Sans", "fontSize": 20, "fontStyle": "italic", "color": "#000"}, "encoding": {"text": {"field": "t"}}},
          {"data": {"name": "aText"}, "transform": [{"filter": "datum.k == 'sv'"}], "mark": {"type": "text", "align": "left", "baseline": "middle", "angle": 270, "font": "Liberation Sans", "fontSize": 13, "color": "#000"}, "encoding": {"text": {"field": "t"}}},
          {"data": {"name": "aText"}, "transform": [{"filter": "datum.k == 'rv'"}], "mark": {"type": "text", "align": "left", "baseline": "middle", "angle": 270, "font": "Liberation Sans", "fontSize": 20, "color": "#000"}, "encoding": {"text": {"field": "t"}}},
          {"data": {"name": "aText"}, "transform": [{"filter": "datum.k == 'p'"}], "mark": {"type": "text", "align": "left", "baseline": "middle", "font": "Liberation Serif", "fontSize": 16, "color": "#222"}, "encoding": {"text": {"field": "t"}}}
        ]
      },
      {
        "width": 561, "height": 557,
        "encoding": {
          "x": {"field": "X", "type": "quantitative", "scale": {"domain": [-100, 100], "nice": false, "zero": false}, "axis": {"values": [-100, -80, -60, -40, -20, 0, 20, 40, 60, 80, 100], "title": "X/mm", "labelPadding": 14, "titleBaseline": "middle", "titleY": 59}},
          "y": {"field": "Y", "type": "quantitative", "scale": {"domain": [-100, 100], "nice": false, "zero": false}, "axis": {"values": [-100, -80, -60, -40, -20, 0, 20, 40, 60, 80, 100], "title": "Y/mm", "labelPadding": 12, "titleBaseline": "middle", "titleX": -46}}
        },
        "layer": [
          {"data": {"name": "redlines"}, "mark": {"type": "rule", "color": "#d8707c", "strokeWidth": 1.1}, "encoding": {"x2": {"field": "X2"}, "y2": {"field": "Y2"}}},
          {"data": {"values": [{"X": 0, "Y": 0}]}, "mark": {"type": "point", "shape": "circle", "filled": false, "size": 1130, "stroke": "#8fb35a", "strokeWidth": 1.3, "opacity": 1}},
          {"data": {"name": "tracks"}, "mark": {"type": "rule", "color": "#222", "strokeWidth": 1.4}, "encoding": {"x2": {"field": "X2"}, "y2": {"field": "Y2"}}},
          {"data": {"name": "bPoly"}, "transform": [{"filter": "datum.p == 'k'"}], "mark": {"type": "line", "fill": "#1c1c1c", "stroke": "#1c1c1c", "strokeWidth": 0.8, "interpolate": "linear"}, "encoding": {"detail": {"field": "s"}, "order": {"field": "o", "type": "quantitative"}}},
          {"data": {"name": "bPoly"}, "transform": [{"filter": "datum.p == 'g'"}], "mark": {"type": "line", "fill": "#437f36", "stroke": "#2f5f2a", "strokeWidth": 0.8, "interpolate": "linear"}, "encoding": {"detail": {"field": "s"}, "order": {"field": "o", "type": "quantitative"}}},
          {"data": {"name": "bT"}, "mark": {"type": "rule", "color": "#222", "strokeWidth": 1.8}, "encoding": {"x2": {"field": "X2"}, "y2": {"field": "Y2"}}},
          {"data": {"name": "bPaths"}, "mark": {"type": "line", "interpolate": "linear"}, "encoding": {"detail": {"field": "id"}, "order": {"field": "o", "type": "quantitative"}, "color": {"field": "k", "type": "nominal", "scale": {"domain": ["g", "d", "t", "o"], "range": ["#98b65e", "#3a3a3a", "#222222", "#6f6b3c"]}, "legend": null}, "strokeWidth": {"field": "k", "type": "ordinal", "scale": {"domain": ["g", "d", "t", "o"], "range": [1.2, 1.2, 1.8, 2.2]}, "legend": null}}},
          {"data": {"values": [{"X": 0, "Y": 0}]}, "mark": {"type": "point", "shape": "circle", "filled": true, "size": 25, "color": "#9c3a3a", "opacity": 1}},
          {"data": {"values": [{"t": "(b)", "X": -129.8, "Y": 98.6}]}, "mark": {"type": "text", "align": "left", "baseline": "middle", "font": "Liberation Serif", "fontSize": 16, "color": "#222"}, "encoding": {"text": {"field": "t"}}}
        ]
      }
    ],
    "spacing": 125,
    "bounds": "flush",
    "resolve": {"scale": {"x": "independent", "y": "independent", "color": "independent", "strokeWidth": "independent"}}
  },
  {
    "hconcat": [
      {"width": 336, "height": 552, "data": {"values": []}, "mark": {"type": "point", "opacity": 0}},
      {
        "width": 554, "height": 552,
        "encoding": {
          "x": {"field": "X", "type": "quantitative", "scale": {"domain": [-100, 100], "nice": false, "zero": false}, "axis": {"values": [-100, -80, -60, -40, -20, 0, 20, 40, 60, 80, 100], "title": "X/mm", "labelPadding": 17, "titleBaseline": "middle", "titleY": 61}},
          "y": {"field": "Y", "type": "quantitative", "scale": {"domain": [-100, 100], "nice": false, "zero": false}, "axis": {"values": [-100, -80, -60, -40, -20, 0, 20, 40, 60, 80, 100], "title": "Y/mm", "labelPadding": 13, "titleBaseline": "middle", "titleX": -66}}
        },
        "layer": [
          {"data": {"name": "redlines"}, "mark": {"type": "rule", "color": "#d8707c", "strokeWidth": 1.1}, "encoding": {"x2": {"field": "X2"}, "y2": {"field": "Y2"}}},
          {"data": {"values": [{"X": 0, "Y": 0}]}, "mark": {"type": "point", "shape": "circle", "filled": false, "size": 1115, "stroke": "#8fb35a", "strokeWidth": 1.3, "opacity": 1}},
          {"data": {"name": "tracks"}, "mark": {"type": "rule", "color": "#333", "strokeWidth": 1.3}, "encoding": {"x2": {"field": "X2"}, "y2": {"field": "Y2"}}},
          {"data": {"name": "cPaths"}, "mark": {"type": "line", "interpolate": "linear"}, "encoding": {"detail": {"field": "id"}, "order": {"field": "o", "type": "quantitative"}, "color": {"field": "k", "type": "nominal", "scale": {"domain": ["g", "d", "t", "o"], "range": ["#a3b86c", "#555555", "#222222", "#6f6b3c"]}, "legend": null}, "strokeWidth": {"field": "k", "type": "ordinal", "scale": {"domain": ["g", "d", "t", "o"], "range": [1.3, 1.1, 1.8, 2.2]}, "legend": null}}},
          {"data": {"values": [{"X": 0, "Y": 0}]}, "mark": {"type": "point", "shape": "circle", "filled": true, "size": 25, "color": "#9c3a3a", "opacity": 1}},
          {"data": {"values": [{"t": "(c)", "X": -130, "Y": 100.4}]}, "mark": {"type": "text", "align": "left", "baseline": "middle", "font": "Liberation Serif", "fontSize": 16, "color": "#222"}, "encoding": {"text": {"field": "t"}}}
        ]
      }
    ],
    "spacing": 0,
    "bounds": "flush"
  }
],
"spacing": 659,
"bounds": "flush",
"resolve": {"scale": {"x": "independent", "y": "independent", "color": "independent", "strokeWidth": "independent"}}
}
